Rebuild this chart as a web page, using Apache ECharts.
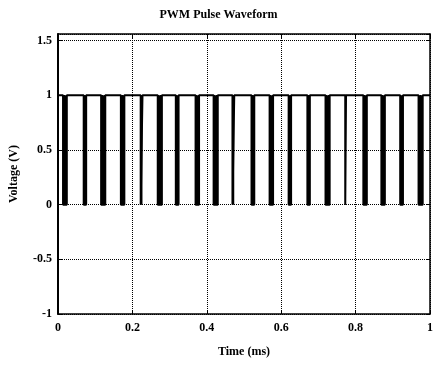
<!DOCTYPE html>
<html>
<head>
<meta charset="utf-8">
<script src="https://cdn.jsdelivr.net/npm/echarts@6/dist/echarts.min.js"></script>
<style>
    html, body {margin: 0; padding: 0; background: #fff;}
    #chart {width: 437px; height: 368px;}
</style>
</head>
<body>
<div id="chart"></div>
<script>
    // 低电平脉冲的中心时刻和宽度 (ms)
    const pulseCenters = [0.0186, 0.0724, 0.1215, 0.1737, 0.2247, 0.2737, 0.3204, 0.3745, 0.4239, 0.4714,
        0.5239, 0.5735, 0.6233, 0.6737, 0.7247, 0.7732, 0.8255, 0.8740, 0.9236, 0.9748];
    const pulseWidths = [0.0101, 0.0066, 0.0111, 0.0093, 0.0048, 0.0111, 0.0074, 0.0093, 0.0111, 0.0048,
        0.0074, 0.0093, 0.0066, 0.0066, 0.0111, 0.0021, 0.0093, 0.0093, 0.0074, 0.0111];
    const highLevel = 1;
    const lowLevel = 0;
    const xTicks = [0, 0.2, 0.4, 0.6, 0.8, 1];
    const yTicks = [-1, -0.5, 0, 0.5, 1, 1.5];

    //拼出波形的点，以及每个脉冲的起止时刻
    const wave = [[0, highLevel]];
    const pulses = [];
    for (let i = 0; i < pulseCenters.length; i++) {
        const s = pulseCenters[i] - pulseWidths[i] / 2;
        const e = pulseCenters[i] + pulseWidths[i] / 2;
        wave.push([s, highLevel], [s, lowLevel], [e, lowLevel], [e, highLevel]);
        pulses.push([s, e]);
    }
    wave.push([1, highLevel]);

    const font = {fontFamily: 'Liberation Serif', fontWeight: 'bold', color: '#000'};
    const grid = {type: 'dotted', color: '#000', width: 1};

    const option = {
        animation: false,
        title: {
            text: 'PWM Pulse Waveform',
            left: 'center',
            top: 4,
            textStyle: {fontFamily: 'Liberation Serif', fontWeight: 'bold', fontSize: 12, color: '#000'}
        },
        grid: {left: 53, right: 7, top: 34, bottom: 54},
        xAxis: [{
            type: 'value',
            min: xTicks[0],
            max: xTicks[xTicks.length - 1],
            interval: 0.2,
            name: 'Time (ms)',
            nameLocation: 'middle',
            nameGap: 32,
            nameTextStyle: Object.assign({fontSize: 12}, font),
            axisLine: {onZero: false, lineStyle: {color: '#000', width: 1.5}},
            axisTick: {inside: true, length: 4, lineStyle: {color: '#000'}},
            axisLabel: Object.assign({fontSize: 12, margin: 8}, font),
            splitLine: {show: true, lineStyle: grid}
        }, {
            type: 'value',
            position: 'top',
            min: 0, max: 1, interval: 0.2,
            axisLine: {show: true, onZero: false, lineStyle: {color: '#000', width: 1.5}},
            axisTick: {show: true, inside: true, length: 4, lineStyle: {color: '#000'}},
            axisLabel: {show: false},
            splitLine: {show: false}
        }],
        yAxis: [{
            type: 'value',
            min: yTicks[0],
            max: 1.56,
            interval: 0.5,
            name: 'Voltage (V)',
            nameLocation: 'middle',
            nameGap: 38,
            nameTextStyle: Object.assign({fontSize: 12}, font),
            axisLine: {show: true, onZero: false, lineStyle: {color: '#000', width: 2}},
            axisTick: {show: true, inside: true, length: 5, lineStyle: {color: '#000'}},
            axisLabel: Object.assign({fontSize: 12, margin: 6, showMaxLabel: false}, font),
            splitLine: {show: true, lineStyle: grid}
        }, {
            type: 'value',
            position: 'right',
            min: -1, max: 1.56, interval: 0.5,
            axisLine: {show: true, onZero: false, lineStyle: {color: '#000', width: 1.5}},
            axisTick: {show: true, inside: true, length: 4, lineStyle: {color: '#000'}},
            axisLabel: {show: false},
            splitLine: {show: false}
        }],
        series: [{
            type: 'line',
            data: wave,
            showSymbol: false,
            lineStyle: {color: '#000', width: 2}
        }, {
            //填满低电平脉冲
            type: 'custom',
            data: pulses,
            renderItem: function (params, api) {
                const p0 = api.coord([api.value(0), highLevel]);
                const p1 = api.coord([api.value(1), lowLevel]);
                return {
                    type: 'rect',
                    shape: {x: p0[0], y: p0[1], width: p1[0] - p0[0], height: p1[1] - p0[1]},
                    style: {fill: '#000'}
                };
            }
        }]
    };
    const myChart = echarts.init(document.getElementById('chart'));
    myChart.setOption(option);
</script>
</body>
</html>
